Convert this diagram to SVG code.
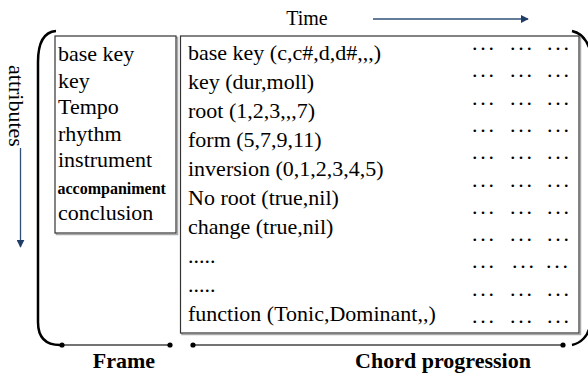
<svg xmlns="http://www.w3.org/2000/svg" width="588" height="375" viewBox="0 0 588 375">
<defs>
<style>
.t{font-family:"Liberation Serif","Times New Roman",serif;font-size:22px;fill:#000}
.b{font-family:"Liberation Serif","Times New Roman",serif;font-weight:bold;fill:#000}
.d{font-family:"Liberation Serif","Times New Roman",serif;font-size:22px;letter-spacing:2.8px;fill:#000}
.box{fill:#fff;stroke:#333;stroke-width:1.2}
.sh{fill:none;stroke:#aaa;stroke-width:1.5}
.br{fill:none;stroke:#000;stroke-width:2.5}
.ln{fill:none;stroke:#444;stroke-width:1.5}
.ar{fill:none;stroke:#2f5077;stroke-width:1.3}
</style>
<marker id="ah" viewBox="0 0 10 10" refX="9" refY="5" markerWidth="8" markerHeight="8" markerUnits="userSpaceOnUse" orient="auto">
<path d="M0,0 L10,5 L0,10 z" fill="#1f3d66"/>
</marker>
</defs>
<rect width="588" height="375" fill="#fff"/>

<g id="connectors">
<path class="br" d="M56 31 C44 32 38 42 38 62 L38 322 C38 336 44 345 60 345"/>
<path class="br" d="M572 31 C581 33 587 40 590 50 L590 326 C588 336 581 343 572 345"/>
<line class="ln" x1="62" y1="345" x2="170" y2="345"/>
<circle cx="62" cy="345" r="2.6"/>
<circle cx="170" cy="345" r="2.6"/>
<line class="ln" x1="193" y1="345" x2="563" y2="345"/>
<circle cx="193" cy="345" r="2.6"/>
<circle cx="563" cy="345" r="2.6"/>
<line class="ar" x1="373" y1="19" x2="528" y2="19" marker-end="url(#ah)"/>
<line class="ar" x1="20.5" y1="148" x2="20.5" y2="247" marker-end="url(#ah)"/>
</g>

<g id="time-label">
<text class="t" x="307" y="25" text-anchor="middle" style="font-size:20px">Time</text>
</g>
<g id="attributes-label">
<text class="t" transform="translate(9,65) rotate(90)">attributes</text>
</g>

<g id="frame">
<rect class="sh" x="56.5" y="37.5" width="121" height="197"/>
<rect class="box" x="55" y="36" width="121" height="197"/>
<text class="t" x="58" y="61">base key</text>
<text class="t" x="58" y="87.5">key</text>
<text class="t" x="58" y="114">Tempo</text>
<text class="t" x="58" y="140.5">rhythm</text>
<text class="t" x="58" y="167">instrument</text>
<text class="b" x="57.5" y="193.5" style="font-size:16px">accompaniment</text>
<text class="t" x="58" y="220">conclusion</text>
</g>

<g id="chord-progression">
<rect class="sh" x="182" y="37.5" width="398.5" height="297"/>
<rect class="box" x="180.5" y="36" width="398.5" height="297"/>
<text class="t" x="188" y="60">base key (c,c#,d,d#,,,)</text>
<text class="t" x="188" y="89">key (dur,moll)</text>
<text class="t" x="188" y="118">root (1,2,3,,,7)</text>
<text class="t" x="188" y="147">form (5,7,9,11)</text>
<text class="t" x="188" y="176">inversion (0,1,2,3,4,5)</text>
<text class="t" x="188" y="205">No root (true,nil)</text>
<text class="t" x="188" y="234">change (true,nil)</text>
<text class="t" x="188" y="263">.....</text>
<text class="t" x="188" y="292">.....</text>
<text class="t" x="188" y="321">function (Tonic,Dominant,,)</text>
<g id="ellipses">
<text class="d" x="472" y="50">...</text><text class="d" x="510" y="50">...</text><text class="d" x="547" y="50">...</text>
<text class="d" x="472" y="77.3">...</text><text class="d" x="510" y="77.3">...</text><text class="d" x="547" y="77.3">...</text>
<text class="d" x="472" y="104.6">...</text><text class="d" x="510" y="104.6">...</text><text class="d" x="547" y="104.6">...</text>
<text class="d" x="472" y="131.9">...</text><text class="d" x="510" y="131.9">...</text><text class="d" x="547" y="131.9">...</text>
<text class="d" x="472" y="159.2">...</text><text class="d" x="510" y="159.2">...</text><text class="d" x="547" y="159.2">...</text>
<text class="d" x="472" y="186.5">...</text><text class="d" x="510" y="186.5">...</text><text class="d" x="547" y="186.5">...</text>
<text class="d" x="472" y="213.8">...</text><text class="d" x="510" y="213.8">...</text><text class="d" x="547" y="213.8">...</text>
<text class="d" x="472" y="241.1">...</text><text class="d" x="510" y="241.1">...</text><text class="d" x="547" y="241.1">...</text>
<text class="d" x="472" y="268.4">...</text><text class="d" x="512" y="268.4">...</text><text class="d" x="546" y="268.4">...</text>
<text class="d" x="472" y="295.7">...</text><text class="d" x="510" y="295.7">...</text><text class="d" x="547" y="295.7">...</text>
<text class="d" x="472" y="323">...</text><text class="d" x="510" y="323">...</text><text class="d" x="547" y="323">...</text>
</g>
</g>

<g id="bottom-labels">
<text class="b" x="124" y="368" text-anchor="middle" style="font-size:22px">Frame</text>
<text class="b" x="443" y="368" text-anchor="middle" style="font-size:22px">Chord progression</text>
</g>
</svg>
